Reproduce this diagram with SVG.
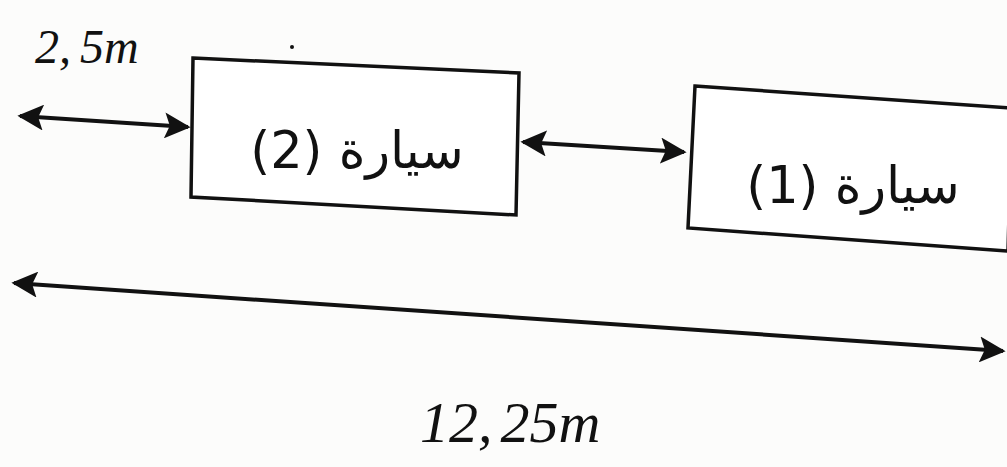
<svg xmlns="http://www.w3.org/2000/svg" width="1007" height="467" viewBox="0 0 1007 467">
<style>
.box{fill:#fff;stroke:#111;stroke-width:3.5;stroke-linejoin:miter}
.conn{stroke:#111;stroke-width:4;fill:none}
.ar{font-family:"DejaVu Sans",sans-serif;font-size:51px;fill:#111}
.dim{font-family:"Liberation Serif",serif;font-style:italic;fill:#111}
</style>
<defs>
<marker id="ah" viewBox="0 0 10 10" refX="9" refY="5" markerWidth="6.5" markerHeight="6.5" markerUnits="strokeWidth" orient="auto-start-reverse">
<path d="M0,0 L10,5 L0,10 L2,5 Z" fill="#111"/>
</marker>
</defs>
<rect width="1007" height="467" fill="#fcfcfb"/>
<g id="car2">
<polygon class="box" points="193,58 519,73 516,215 191,197"/>
<text class="ar" x="357" y="168" text-anchor="middle" direction="rtl">سيارة (2)</text>
</g>
<g id="car1">
<polygon class="box" points="695,86 1012,108 1008,251 688,228"/>
<text class="ar" x="853" y="203" text-anchor="middle" direction="rtl">سيارة (1)</text>
</g>
<g id="connectors">
<line class="conn" x1="20" y1="116" x2="188" y2="127" marker-start="url(#ah)" marker-end="url(#ah)"/>
<line class="conn" x1="523" y1="142" x2="684" y2="152" marker-start="url(#ah)" marker-end="url(#ah)"/>
<line class="conn" x1="14" y1="283" x2="1003" y2="351" marker-start="url(#ah)" marker-end="url(#ah)"/>
</g>
<g id="labels">
<text class="dim" x="35" y="63" font-size="48">2,<tspan dx="9">5m</tspan></text>
<text class="dim" x="420" y="442" font-size="58">12,<tspan dx="8">25m</tspan></text>
<circle cx="292" cy="47" r="2" fill="#111"/>
</g>
</svg>
